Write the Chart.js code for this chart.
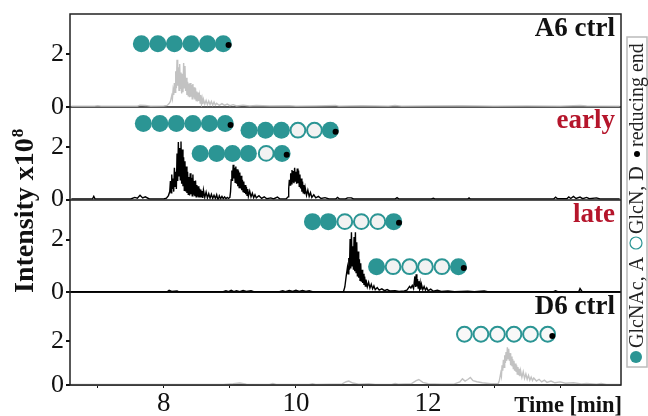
<!DOCTYPE html>
<html>
<head>
<meta charset="utf-8">
<title>Intensity traces</title>
<script src="https://cdn.jsdelivr.net/npm/chart.js@4/dist/chart.umd.js"></script>
<style>
  html, body { margin: 0; padding: 0; background: #fff; }
  canvas { display: block; }
</style>
</head>
<body>
<canvas id="chart" width="648" height="416"></canvas>
<script>
// Traces as [time, intensity]
const a6Trace = [[6.6,.02],[6.95,.02],[7,.04],[7.05,.02],[7.6,.02],[7.64,.06],[7.72,.05],[7.8,.02],[8,.03],[8.05,.05],[8.08,.12],
  [8.1,.2],[8.12,.42],[8.13,.3],[8.14,.62],[8.15,.45],[8.16,.9],[8.17,.55],[8.18,1.35],[8.19,.7],[8.2,1.78],[8.21,.8],[8.22,1.5],[8.23,.62],
  [8.24,1.62],[8.25,.7],[8.26,1.3],[8.27,.5],[8.28,1.25],[8.29,.55],[8.3,1.66],[8.31,.72],[8.32,1.55],[8.33,.6],[8.34,1.1],[8.35,.45],
  [8.36,.95],[8.37,.42],[8.38,.88],[8.39,.36],[8.4,.9],[8.41,.38],[8.42,.82],[8.43,.3],[8.44,.86],[8.45,.35],[8.46,.74],[8.47,.28],
  [8.48,.7],[8.49,.24],[8.5,.58],[8.51,.2],[8.52,.54],[8.53,.22],[8.54,.42],[8.55,.14],[8.56,.45],[8.57,.12],[8.58,.3],[8.59,.1],
  [8.6,.28],[8.62,.1],[8.64,.24],[8.66,.08],[8.68,.22],[8.7,.08],[8.72,.2],[8.74,.06],[8.76,.18],[8.78,.06],[8.8,.13],[8.84,.05],
  [8.88,.12],[8.92,.05],[8.96,.1],[9,.04],[9.05,.08],[9.1,.03],[9.2,.06],[9.3,.03],[9.4,.05],[9.6,.03],[9.9,.04],[10,.02],[10.3,.03],
  [10.6,.05],[10.65,.02],[11,.04],[11.4,.02],[11.5,.05],[11.6,.02],[12,.03],[12.5,.04],[13,.02],[13.5,.03],[14,.02],[14.3,.05],[14.4,.03],[14.9,.02]];

const earlyTrace = [[6.6,.02],[6.92,.02],[6.94,.12],[6.96,.02],[7.5,.02],[7.56,.08],[7.6,.05],[7.64,.16],[7.68,.06],[7.72,.1],[7.78,.02],[8,.02],[8.04,.05],
  [8.07,.15],[8.09,.3],[8.1,.7],[8.11,.25],[8.12,.95],[8.13,.4],[8.14,.8],[8.15,.3],[8.16,1.2],[8.17,.5],[8.18,1.05],[8.19,.4],
  [8.2,1.75],[8.21,.7],[8.22,2.18],[8.23,.9],[8.24,1.95],[8.25,.75],[8.26,2.2],[8.27,.6],[8.28,1.9],[8.29,.5],[8.3,1.6],[8.31,.35],
  [8.32,1.45],[8.33,.3],[8.34,1.25],[8.35,.25],[8.36,1.05],[8.37,.2],[8.38,.85],[8.39,.15],[8.4,1],[8.41,.2],[8.42,.82],[8.43,.14],
  [8.44,.95],[8.45,.18],[8.46,.7],[8.47,.12],[8.48,.72],[8.49,.1],[8.5,.55],[8.51,.12],[8.52,.5],[8.53,.08],[8.54,.42],[8.55,.1],
  [8.56,.38],[8.57,.08],[8.58,.32],[8.59,.06],[8.6,.36],[8.62,.08],[8.64,.28],[8.66,.06],[8.68,.22],[8.7,.05],[8.72,.2],[8.74,.04],
  [8.76,.16],[8.78,.04],[8.8,.18],[8.82,-.04],[8.84,.14],[8.86,.03],[8.88,.12],[8.9,.03],[8.92,.1],[8.94,.03],[8.96,.08],[8.98,.04],
  [9,.08],[9.01,.3],[9.02,.75],[9.03,1.1],[9.04,.7],[9.05,1.32],[9.06,.8],[9.07,1.2],[9.08,.65],[9.09,1.25],[9.1,.6],[9.11,1.15],
  [9.12,.5],[9.13,1.1],[9.14,.45],[9.15,1.02],[9.16,.42],[9.17,.9],[9.18,.35],[9.19,.75],[9.2,.3],[9.21,.68],[9.22,.25],[9.23,.55],
  [9.24,.2],[9.25,.48],[9.26,.16],[9.27,.4],[9.28,.12],[9.3,.32],[9.32,.1],[9.34,.24],[9.36,.07],[9.38,.18],[9.4,.06],[9.44,.14],
  [9.48,.04],[9.52,.1],[9.56,.03],[9.62,.06],[9.66,.02],[9.72,.09],[9.76,.02],[9.85,.02],[9.88,.1],[9.89,.4],[9.9,.75],[9.91,.55],
  [9.92,1],[9.93,.6],[9.94,1.12],[9.95,.65],[9.96,1.08],[9.97,.62],[9.98,1.2],[9.99,.7],[10,1.05],[10.01,.6],[10.02,1.18],[10.03,.62],
  [10.04,1.1],[10.05,.5],[10.06,.95],[10.07,.42],[10.08,.8],[10.09,.3],[10.1,.68],[10.11,.25],[10.12,.55],[10.13,.2],[10.14,.45],
  [10.16,.16],[10.18,.36],[10.2,.12],[10.22,.26],[10.24,.08],[10.27,.18],[10.3,.06],[10.34,.12],[10.38,.04],[10.44,.07],[10.5,.02],
  [10.6,.02],[10.63,.08],[10.66,.02],[10.75,.02],[10.78,.06],[10.84,.06],[10.87,.02],[11.5,.02],[11.53,.07],[11.56,.02],[12.05,.02],
  [12.08,.05],[12.1,.02],[12.6,.02],[12.62,.06],[12.64,.02],[13.9,.02],[13.93,.09],[13.96,.03],[14.1,.03],[14.13,.1],[14.16,.04],
  [14.2,.12],[14.24,.04],[14.3,.09],[14.34,.03],[14.4,.08],[14.44,.03],[14.55,.06],[14.6,.02],[14.9,.02]];

const lateTrace = [[6.6,.02],[8.05,.02],[8.08,.07],[8.12,.03],[8.2,.05],[8.22,.02],[8.9,.02],[8.94,.06],[8.98,.02],[9.02,.07],[9.06,.02],[9.1,.06],[9.15,.02],
  [9.2,.07],[9.25,.03],[9.32,.06],[9.36,.02],[9.75,.02],[9.8,.06],[9.84,.02],[9.9,.07],[9.95,.03],[10,.08],[10.05,.03],[10.1,.07],[10.15,.03],
  [10.2,.06],[10.25,.02],[10.72,.03],[10.74,.2],[10.76,.6],[10.78,.95],[10.79,.7],[10.8,1.3],[10.81,.85],[10.82,2.02],[10.83,.9],[10.84,2.28],
  [10.85,1],[10.86,1.75],[10.87,.85],[10.88,2.1],[10.89,.8],[10.9,2.28],[10.91,.75],[10.92,1.9],[10.93,.6],[10.94,1.55],[10.95,.55],
  [10.96,1.25],[10.97,.45],[10.98,1.1],[10.99,.4],[11,.85],[11.01,.35],[11.02,.7],[11.03,.28],[11.04,.6],[11.05,.24],[11.06,.48],
  [11.08,.2],[11.1,.38],[11.12,.16],[11.14,.3],[11.16,.13],[11.18,.24],[11.2,.1],[11.23,.18],[11.26,.08],[11.3,.13],[11.34,.06],
  [11.38,.1],[11.42,.05],[11.5,.06],[11.56,.03],[11.64,.05],[11.68,.08],[11.72,.22],[11.74,.16],[11.76,.26],[11.78,.14],[11.8,.6],
  [11.81,.2],[11.82,.68],[11.83,.22],[11.84,.5],[11.85,.16],[11.86,.42],[11.87,.14],[11.88,.34],[11.89,.1],[11.9,.3],[11.92,.1],
  [11.94,.22],[11.96,.08],[11.98,.17],[12,.06],[12.04,.12],[12.08,.04],[12.14,.08],[12.2,.03],[12.3,.05],[12.4,.02],[12.6,.04],[12.7,.02],
  [12.85,.05],[12.9,.02],[13.9,.02],[13.93,.06],[13.96,.02],[14.28,.02],[14.3,.14],[14.33,.03],[14.9,.02]];

const d6Trace = [[6.6,.03],[8.9,.03],[9.05,.06],[9.15,.09],[9.25,.04],[9.6,.03],[9.65,.07],[9.7,.03],[10.2,.03],[10.25,.06],[10.3,.03],
  [10.7,.05],[10.76,.15],[10.8,.18],[10.86,.09],[10.95,.04],[11.1,.06],[11.2,.03],[11.45,.03],[11.5,.07],[11.55,.04],[11.75,.06],[11.82,.2],
  [11.86,.25],[11.92,.12],[12,.06],[12.2,.04],[12.4,.05],[12.48,.14],[12.52,.28],[12.56,.18],[12.6,.25],[12.64,.34],[12.68,.2],[12.74,.15],
  [12.82,.1],[12.95,.06],[13.06,.06],[13.08,.22],[13.1,.55],[13.11,.4],[13.12,.9],[13.13,.65],[13.14,1.15],[13.15,.8],[13.16,1.35],[13.17,1],
  [13.18,1.5],[13.19,1.1],[13.2,1.72],[13.21,1.2],[13.22,1.65],[13.23,1.1],[13.24,1.45],[13.25,.9],[13.26,1.3],[13.27,.85],[13.28,1.18],
  [13.29,.75],[13.3,1.1],[13.31,.65],[13.32,.98],[13.33,.6],[13.34,.9],[13.35,.5],[13.36,.82],[13.37,.45],[13.38,.74],[13.39,.4],[13.4,.66],
  [13.42,.35],[13.44,.6],[13.46,.3],[13.48,.5],[13.5,.26],[13.52,.44],[13.54,.22],[13.56,.36],[13.58,.2],[13.6,.32],[13.64,.18],[13.68,.26],
  [13.72,.14],[13.76,.22],[13.8,.12],[13.86,.18],[13.92,.1],[14,.14],[14.08,.08],[14.2,.1],[14.32,.05],[14.4,.07],[14.55,.04],[14.62,.07],[14.7,.03],[14.9,.03]];

// Glycan chains: residue positions as [time, height] in each panel's own units
const a6Filled = [[7.66,2.39],[7.91,2.39],[8.16,2.39],[8.41,2.39],[8.66,2.39],[8.9,2.39]];
const a6Ends = [[8.98,2.34]];
const earlyFilled = [[7.69,2.88],[7.94,2.88],[8.19,2.88],[8.44,2.88],[8.69,2.88],[8.93,2.88],
  [9.29,2.63],[9.54,2.63],[9.78,2.63],[10.52,2.63],
  [8.55,1.75],[8.8,1.75],[9.04,1.75],[9.28,1.75],[9.79,1.75]];
const earlyOpen = [[10.03,2.63],[10.28,2.63],[9.55,1.75]];
const earlyEnds = [[9.01,2.83],[10.6,2.57],[9.86,1.7]];
const lateFilled = [[10.25,2.68],[10.49,2.68],[11.48,2.68],[11.22,.97],[12.46,.97]];
const lateOpen = [[10.74,2.68],[10.99,2.68],[11.24,2.68],[11.47,.97],[11.72,.97],[11.96,.97],[12.21,.97]];
const lateEnds = [[11.56,2.64],[12.54,.92]];
const d6Open = [[12.55,2.31],[12.8,2.31],[13.05,2.31],[13.3,2.31],[13.55,2.31],[13.81,2.31]];
const d6Ends = [[13.88,2.23]];

const panelNames = ['A6 ctrl', 'early', 'late', 'D6 ctrl'];
const panelColors = ['#111', '#b5152b', '#b5152b', '#111'];
const panelBaselines = [36, 128, 222, 314];
const panelMax = [3.52, 3.52, 3.52, 4.22];
const yTickValues = [0, 2];
const xTickValues = [7, 8, 9, 10, 11, 12, 13, 14];
const xLabels = [8, 10, 12];

const TEAL = '#2b9594';
const SERIF = '"Liberation Serif", serif';

function yAxis(max, zeroColor) {
    return {
        type: 'linear',
        position: 'left',
        stack: 'panels',
        stackWeight: 1,
        min: 0,
        max: max,
        afterFit: function(scale) {
            scale.width = 40;
            // tick labels may overhang, the plot area must not shrink for them
            scale.paddingTop = 0;
            scale.paddingBottom = 0;
        },
        afterBuildTicks: function(scale) { scale.ticks = yTickValues.map(function(v) { return { value: v }; }); },
        border: { display: false },
        grid: {
            tickLength: 4,
            tickColor: '#111',
            lineWidth: 2,
            color: function(ctx) { return ctx.tick && ctx.tick.value === 0 ? zeroColor : 'rgba(0,0,0,0)'; }
        },
        ticks: {
            autoSkip: false,
            padding: 2,
            color: '#111',
            font: { family: SERIF, size: 26 }
        }
    };
}

function trace(data, axis, color) {
    return { type: 'scatter', data: data, yAxisID: axis, showLine: true, borderColor: color, borderWidth: 1.4, pointRadius: 0, order: 5 };
}

function residues(data, axis, fill) {
    return {
        type: 'scatter', data: data, yAxisID: axis, showLine: false, order: 2,
        pointStyle: 'circle', pointRadius: fill === TEAL ? 8.5 : 7.4,
        pointBackgroundColor: fill, pointBorderColor: TEAL, pointBorderWidth: fill === TEAL ? 0 : 2
    };
}

function ends(data, axis) {
    return {
        type: 'scatter', data: data, yAxisID: axis, showLine: false, order: 1,
        pointStyle: 'circle', pointRadius: 3, pointBackgroundColor: '#000', pointBorderWidth: 0
    };
}

// Frame, panel names, axis titles and the side key
const decorations = {
    id: 'decorations',
    afterDraw: function(chart) {
        const c = chart.ctx;
        const area = chart.chartArea;
        c.save();
        c.strokeStyle = '#222';
        c.lineWidth = 1.5;
        c.strokeRect(area.left, area.top, area.right - area.left, area.bottom - area.top);

        c.textAlign = 'right';
        c.textBaseline = 'alphabetic';
        c.font = 'bold 27px ' + SERIF;
        panelNames.forEach(function(name, i) {
            c.fillStyle = panelColors[i];
            c.fillText(name, 615, panelBaselines[i]);
        });
        c.fillStyle = '#111';
        c.font = 'bold 22.5px ' + SERIF;
        c.fillText('Time [min]', 622, 412);

        // y title, rotated
        c.save();
        c.translate(33, 293);
        c.rotate(-Math.PI / 2);
        c.textAlign = 'left';
        c.font = 'bold 28px ' + SERIF;
        c.fillText('Intensity x10', 0, 0);
        const w = c.measureText('Intensity x10').width;
        c.font = 'bold 17px ' + SERIF;
        c.fillText('8', w + 1, -10);
        c.restore();

        // side key
        c.strokeStyle = '#bbb';
        c.lineWidth = 1.5;
        c.strokeRect(627, 37, 20, 330);
        c.fillStyle = TEAL;
        c.beginPath();
        c.arc(636, 357, 6, 0, 2 * Math.PI);
        c.fill();
        c.strokeStyle = TEAL;
        c.lineWidth = 1.2;
        c.beginPath();
        c.arc(636, 243, 6, 0, 2 * Math.PI);
        c.stroke();
        c.fillStyle = '#000';
        c.beginPath();
        c.arc(637, 154, 3, 0, 2 * Math.PI);
        c.fill();
        c.fillStyle = '#222';
        c.font = '20px ' + SERIF;
        [['GlcNAc, A', 348], ['GlcN, D', 234], ['reducing end', 147]].forEach(function(item) {
            c.save();
            c.translate(643, item[1]);
            c.rotate(-Math.PI / 2);
            c.textAlign = 'left';
            c.fillText(item[0], 0, 0);
            c.restore();
        });
        c.restore();
    }
};

new Chart(document.getElementById('chart').getContext('2d'), {
    type: 'scatter',
    data: {
        datasets: [
            trace(a6Trace, 'yA6', '#c2c2c2'),
            trace(earlyTrace, 'yEarly', '#000'),
            trace(lateTrace, 'yLate', '#000'),
            trace(d6Trace, 'yD6', '#c2c2c2'),
            residues(a6Filled, 'yA6', TEAL),
            ends(a6Ends, 'yA6'),
            residues(earlyFilled, 'yEarly', TEAL),
            residues(earlyOpen, 'yEarly', '#f2f2f2'),
            ends(earlyEnds, 'yEarly'),
            residues(lateFilled, 'yLate', TEAL),
            residues(lateOpen, 'yLate', '#f2f2f2'),
            ends(lateEnds, 'yLate'),
            residues(d6Open, 'yD6', '#f8f8f8'),
            ends(d6Ends, 'yD6')
        ]
    },
    options: {
        responsive: false,
        animation: false,
        layout: { padding: { left: 30, right: 27, top: 14, bottom: 0 } },
        plugins: { legend: { display: false }, tooltip: { enabled: false } },
        scales: {
            x: {
                type: 'linear',
                min: 6.58,
                max: 14.92,
                afterFit: function(scale) { scale.height = 31; },
                afterBuildTicks: function(scale) { scale.ticks = xTickValues.map(function(v) { return { value: v }; }); },
                border: { display: false },
                grid: { drawOnChartArea: false, tickLength: 3, tickColor: '#111' },
                ticks: {
                    autoSkip: false,
                    maxRotation: 0,
                    padding: 0,
                    color: '#111',
                    font: { family: SERIF, size: 27 },
                    callback: function(v) { return xLabels.includes(v) ? String(v) : ''; }
                }
            },
            yD6: yAxis(panelMax[3], '#888'),
            yLate: yAxis(panelMax[2], '#111'),
            yEarly: yAxis(panelMax[1], '#555'),
            yA6: yAxis(panelMax[0], '#555')
        }
    },
    plugins: [decorations]
});
</script>
</body>
</html>
